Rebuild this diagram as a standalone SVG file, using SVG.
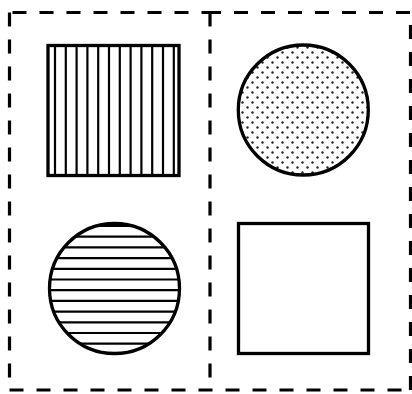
<svg xmlns="http://www.w3.org/2000/svg" width="412" height="394" viewBox="0 0 412 394">
<style>
.dash{fill:none;stroke:#000;stroke-width:3.2;stroke-dasharray:14 13}
.shape{stroke:#000;stroke-width:3.3}
.hatch{stroke:#000;stroke-width:2.2}
</style>
<defs>
<pattern id="dots" width="10" height="10" patternUnits="userSpaceOnUse" x="0" y="0">
<circle cx="2.5" cy="2.5" r="1.2" fill="#222"/>
<circle cx="7.5" cy="7.5" r="1.2" fill="#222"/>
</pattern>
<clipPath id="clipCircle"><circle cx="114.5" cy="288.5" r="65"/></clipPath>
</defs>
<rect width="412" height="394" fill="#fff"/>
<g id="panels">
<path class="dash" d="M9.5,12.5 H210" stroke-dashoffset="-3"/>
<path class="dash" d="M210,12.5 H410.5" stroke-dashoffset="3"/>
<path class="dash" d="M9.5,12.5 V390"/>
<path class="dash" d="M210,12.5 V390"/>
<path class="dash" d="M410.5,390 V12.5"/>
<path class="dash" d="M9.5,390 H410.5"/>
</g>
<g id="hatched-square">
<rect x="48" y="45.5" width="131" height="130" fill="#fff" class="shape"/>
<g class="hatch">
<line x1="55" y1="45.5" x2="55" y2="175.5"/>
<line x1="65.8" y1="45.5" x2="65.8" y2="175.5"/>
<line x1="76.6" y1="45.5" x2="76.6" y2="175.5"/>
<line x1="87.4" y1="45.5" x2="87.4" y2="175.5"/>
<line x1="98.2" y1="45.5" x2="98.2" y2="175.5"/>
<line x1="109" y1="45.5" x2="109" y2="175.5"/>
<line x1="119.8" y1="45.5" x2="119.8" y2="175.5"/>
<line x1="130.6" y1="45.5" x2="130.6" y2="175.5"/>
<line x1="141.4" y1="45.5" x2="141.4" y2="175.5"/>
<line x1="152.2" y1="45.5" x2="152.2" y2="175.5"/>
<line x1="163" y1="45.5" x2="163" y2="175.5"/>
<line x1="173.8" y1="45.5" x2="173.8" y2="175.5"/>
</g>
</g>
<g id="dotted-circle">
<circle cx="303.3" cy="110" r="65" fill="url(#dots)" class="shape"/>
</g>
<g id="hatched-circle">
<circle cx="114.5" cy="288.5" r="65" fill="#fff"/>
<g class="hatch" clip-path="url(#clipCircle)">
<line x1="40" y1="226" x2="190" y2="226"/>
<line x1="40" y1="236.7" x2="190" y2="236.7"/>
<line x1="40" y1="247.4" x2="190" y2="247.4"/>
<line x1="40" y1="258.1" x2="190" y2="258.1"/>
<line x1="40" y1="268.8" x2="190" y2="268.8"/>
<line x1="40" y1="279.5" x2="190" y2="279.5"/>
<line x1="40" y1="290.2" x2="190" y2="290.2"/>
<line x1="40" y1="300.9" x2="190" y2="300.9"/>
<line x1="40" y1="311.6" x2="190" y2="311.6"/>
<line x1="40" y1="322.3" x2="190" y2="322.3"/>
<line x1="40" y1="333" x2="190" y2="333"/>
<line x1="40" y1="343.7" x2="190" y2="343.7"/>
</g>
<circle cx="114.5" cy="288.5" r="65" fill="none" class="shape"/>
</g>
<g id="plain-square">
<rect x="238.5" y="223.5" width="130" height="130" fill="#fff" class="shape"/>
</g>
</svg>
